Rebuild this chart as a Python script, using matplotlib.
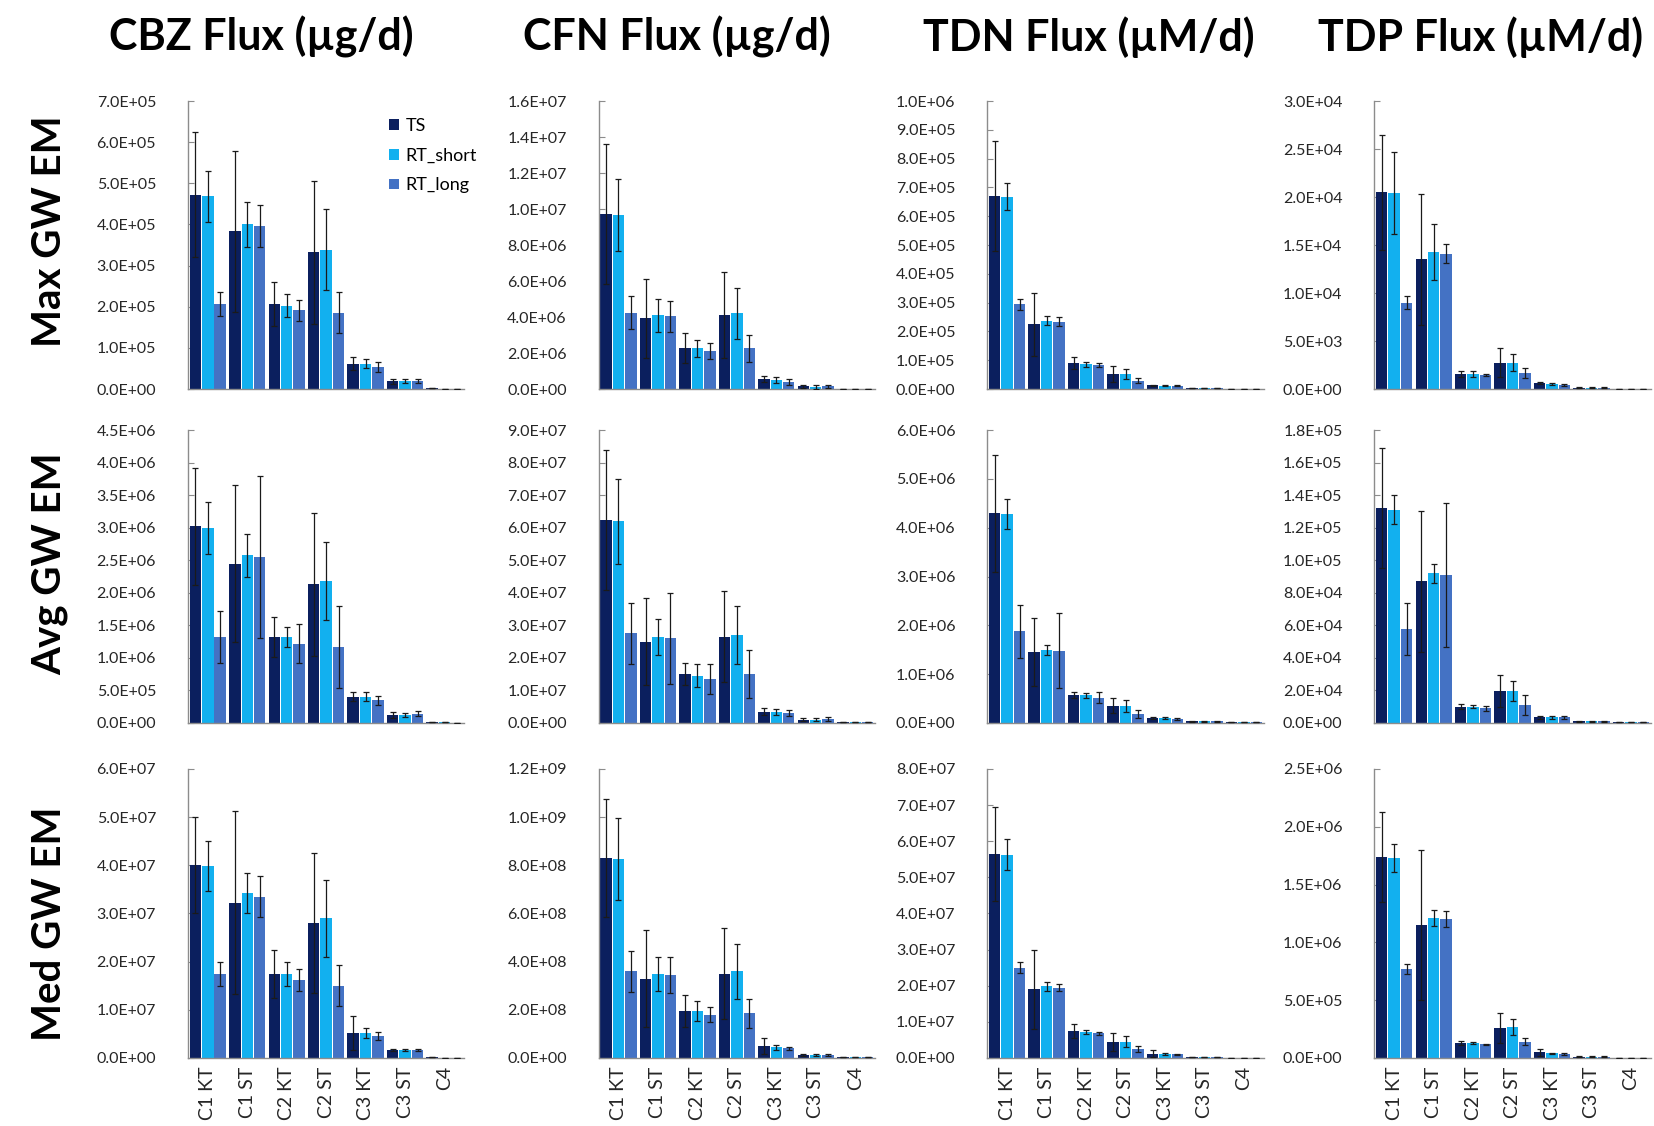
import matplotlib.pyplot as plt
import numpy as np
from matplotlib.ticker import FuncFormatter, MultipleLocator

plt.rcParams['font.family'] = ['Lato', 'DejaVu Sans']

categories = ['C1 KT', 'C1 ST', 'C2 KT', 'C2 ST', 'C3 KT', 'C3 ST', 'C4']
series = ['TS', 'RT_short', 'RT_long']
colors = ['#0b1f5e', '#12b0ef', '#4472c4']
col_titles = ['CBZ Flux (µg/d)', 'CFN Flux (µg/d)', 'TDN Flux (µM/d)', 'TDP Flux (µM/d)']
row_titles = ['Max GW EM', 'Avg GW EM', 'Med GW EM']

# each panel: rows = TS, RT_short, RT_long ; values then errors
cbz_max = np.array([[4.72, 3.83, 2.06, 3.32, 0.62, 0.19, 0.02],
                    [4.68, 4.00, 2.03, 3.39, 0.62, 0.19, 0.01],
                    [2.06, 3.96, 1.91, 1.85, 0.54, 0.20, 0.00]]) * 1e5
cbz_max_err = np.array([[1.52, 1.96, 0.53, 1.74, 0.15, 0.06, 0],
                        [0.63, 0.55, 0.28, 0.98, 0.10, 0.05, 0],
                        [0.29, 0.52, 0.26, 0.50, 0.12, 0.05, 0]]) * 1e5

cfn_max = np.array([[9.72, 3.92, 2.26, 4.09, 0.55, 0.15, 0.02],
                    [9.67, 4.09, 2.26, 4.22, 0.50, 0.12, 0.02],
                    [4.25, 4.03, 2.12, 2.26, 0.40, 0.15, 0.02]]) * 1e6
cfn_max_err = np.array([[3.90, 2.20, 0.83, 2.39, 0.15, 0.10, 0],
                        [2.00, 0.90, 0.48, 1.42, 0.15, 0.10, 0],
                        [0.90, 0.87, 0.44, 0.74, 0.15, 0.10, 0]]) * 1e6

tdn_max = np.array([[6.70, 2.25, 0.89, 0.52, 0.13, 0.03, 0.01],
                    [6.68, 2.37, 0.86, 0.52, 0.12, 0.03, 0.01],
                    [2.94, 2.34, 0.82, 0.29, 0.12, 0.03, 0.01]]) * 1e5
tdn_max_err = np.array([[1.90, 1.10, 0.21, 0.28, 0.02, 0.01, 0],
                        [0.46, 0.15, 0.09, 0.17, 0.02, 0.01, 0],
                        [0.18, 0.16, 0.07, 0.08, 0.02, 0.01, 0]]) * 1e5

tdp_max = np.array([[20.5, 13.5, 1.55, 2.76, 0.62, 0.15, 0.0],
                    [20.4, 14.3, 1.55, 2.76, 0.55, 0.15, 0.0],
                    [9.0, 14.1, 1.50, 1.69, 0.45, 0.15, 0.0]]) * 1e3
tdp_max_err = np.array([[6.0, 6.8, 0.30, 1.50, 0.10, 0.03, 0],
                        [4.3, 2.9, 0.30, 0.85, 0.10, 0.03, 0],
                        [0.7, 1.0, 0.10, 0.50, 0.10, 0.03, 0]]) * 1e3

cbz_avg = np.array([[3.02, 2.45, 1.32, 2.13, 0.40, 0.12, 0.01],
                    [3.00, 2.58, 1.32, 2.18, 0.40, 0.12, 0.01],
                    [1.32, 2.55, 1.22, 1.17, 0.35, 0.14, 0.00]]) * 1e6
cbz_avg_err = np.array([[0.90, 1.20, 0.30, 1.10, 0.07, 0.04, 0],
                        [0.40, 0.33, 0.15, 0.60, 0.07, 0.03, 0],
                        [0.40, 1.25, 0.30, 0.63, 0.07, 0.04, 0]]) * 1e6

cfn_avg = np.array([[6.25, 2.50, 1.50, 2.65, 0.35, 0.10, 0.02],
                    [6.20, 2.65, 1.45, 2.70, 0.33, 0.10, 0.02],
                    [2.75, 2.60, 1.35, 1.50, 0.30, 0.12, 0.02]]) * 1e7
cfn_avg_err = np.array([[2.15, 1.35, 0.35, 1.40, 0.10, 0.05, 0],
                        [1.30, 0.55, 0.35, 0.90, 0.10, 0.05, 0],
                        [0.95, 1.40, 0.45, 0.75, 0.10, 0.05, 0]]) * 1e7

tdn_avg = np.array([[4.30, 1.45, 0.57, 0.35, 0.10, 0.03, 0.01],
                    [4.28, 1.50, 0.57, 0.35, 0.10, 0.03, 0.01],
                    [1.88, 1.48, 0.52, 0.18, 0.08, 0.03, 0.01]]) * 1e6
tdn_avg_err = np.array([[1.20, 0.70, 0.07, 0.15, 0.02, 0.01, 0],
                        [0.30, 0.10, 0.05, 0.12, 0.02, 0.01, 0],
                        [0.54, 0.77, 0.12, 0.08, 0.02, 0.01, 0]]) * 1e6

tdp_avg = np.array([[13.2, 8.7, 1.00, 1.95, 0.35, 0.10, 0.05],
                    [13.1, 9.2, 1.00, 1.95, 0.35, 0.10, 0.05],
                    [5.8, 9.1, 0.90, 1.10, 0.35, 0.10, 0.05]]) * 1e4
tdp_avg_err = np.array([[3.70, 4.35, 0.15, 1.00, 0.10, 0.03, 0],
                        [0.90, 0.60, 0.10, 0.60, 0.10, 0.03, 0],
                        [1.60, 4.45, 0.15, 0.60, 0.10, 0.03, 0]]) * 1e4

cbz_med = np.array([[4.00, 3.22, 1.75, 2.80, 0.52, 0.16, 0.02],
                    [3.98, 3.42, 1.75, 2.90, 0.52, 0.16, 0.00],
                    [1.75, 3.35, 1.62, 1.50, 0.46, 0.16, 0.00]]) * 1e7
cbz_med_err = np.array([[1.00, 1.90, 0.50, 1.45, 0.35, 0.02, 0],
                        [0.52, 0.42, 0.25, 0.80, 0.10, 0.02, 0],
                        [0.25, 0.43, 0.22, 0.42, 0.08, 0.02, 0]]) * 1e7

cfn_med = np.array([[8.30, 3.30, 1.95, 3.50, 0.50, 0.12, 0.03],
                    [8.25, 3.50, 1.95, 3.60, 0.45, 0.12, 0.03],
                    [3.60, 3.45, 1.80, 1.85, 0.40, 0.12, 0.03]]) * 1e8
cfn_med_err = np.array([[2.45, 2.00, 0.65, 1.90, 0.35, 0.05, 0],
                        [1.70, 0.70, 0.40, 1.15, 0.10, 0.05, 0],
                        [0.85, 0.75, 0.30, 0.60, 0.07, 0.05, 0]]) * 1e8

tdn_med = np.array([[5.65, 1.90, 0.75, 0.45, 0.12, 0.03, 0.01],
                    [5.62, 1.98, 0.72, 0.45, 0.12, 0.03, 0.01],
                    [2.50, 1.95, 0.68, 0.25, 0.10, 0.03, 0.01]]) * 1e7
tdn_med_err = np.array([[1.30, 1.10, 0.20, 0.25, 0.10, 0.01, 0],
                        [0.43, 0.12, 0.05, 0.15, 0.03, 0.01, 0],
                        [0.15, 0.10, 0.05, 0.08, 0.02, 0.01, 0]]) * 1e7

tdp_med = np.array([[17.4, 11.5, 1.30, 2.60, 0.50, 0.10, 0.0],
                    [17.3, 12.1, 1.30, 2.70, 0.40, 0.10, 0.0],
                    [7.7, 12.0, 1.20, 1.40, 0.35, 0.10, 0.0]]) * 1e5
tdp_med_err = np.array([[3.90, 6.50, 0.20, 1.30, 0.30, 0.03, 0],
                        [1.20, 0.70, 0.05, 0.70, 0.05, 0.03, 0],
                        [0.40, 0.70, 0.05, 0.30, 0.05, 0.03, 0]]) * 1e5

panels = [[(cbz_max, cbz_max_err, 7e5, 1e5), (cfn_max, cfn_max_err, 1.6e7, 2e6),
           (tdn_max, tdn_max_err, 1e6, 1e5), (tdp_max, tdp_max_err, 3e4, 5e3)],
          [(cbz_avg, cbz_avg_err, 4.5e6, 5e5), (cfn_avg, cfn_avg_err, 9e7, 1e7),
           (tdn_avg, tdn_avg_err, 6e6, 1e6), (tdp_avg, tdp_avg_err, 1.8e5, 2e4)],
          [(cbz_med, cbz_med_err, 6e7, 1e7), (cfn_med, cfn_med_err, 1.2e9, 2e8),
           (tdn_med, tdn_med_err, 8e7, 1e7), (tdp_med, tdp_med_err, 2.5e6, 5e5)]]

fig = plt.figure(figsize=(16.54, 11.26), dpi=100)

lefts = [0.1137, 0.362, 0.597, 0.831]
bottoms = [0.6545, 0.358, 0.0604]
heights = [0.2558, 0.260, 0.2567]
width = 0.167
x = np.arange(len(categories))
bw = 0.29
step = 0.315
axis_gray = '#8c8c8c'

for r in range(3):
    for c in range(4):
        vals, errs, ymax, ystep = panels[r][c]
        ax = fig.add_axes([lefts[c], bottoms[r], width, heights[r]])
        for i in range(3):
            pos = x + (i - 1) * step
            ax.bar(pos, vals[i], bw, color=colors[i], label=series[i], zorder=2)
            ax.errorbar(pos, vals[i], yerr=errs[i], fmt='none', ecolor='#1a1a1a',
                        elinewidth=0.9, capsize=2.2, capthick=0.9, zorder=3)
        ax.set_xlim(-0.5, 6.5)
        ax.set_ylim(0, ymax)
        ax.yaxis.set_major_locator(MultipleLocator(ystep))
        ax.yaxis.set_major_formatter(FuncFormatter(lambda v, p: f'{v:.1E}'))
        for s in ['top', 'right']:
            ax.spines[s].set_visible(False)
        for s in ['left', 'bottom']:
            ax.spines[s].set_color(axis_gray)
            ax.spines[s].set_linewidth(1.0)
        ax.tick_params(axis='y', direction='in', length=4, color=axis_gray,
                       labelsize=11.5, labelcolor='#262626', pad=23)
        ax.set_xticks(x)
        if r == 2:
            ax.set_xticklabels(categories, rotation=90, fontsize=14, color='#262626')
            ax.tick_params(axis='x', length=0, pad=6)
        else:
            ax.set_xticklabels([])
            ax.tick_params(axis='x', length=0)
        if r == 0 and c == 0:
            ax.legend(loc='upper left', bbox_to_anchor=(0.70, 0.965), frameon=False,
                      fontsize=13, handlelength=0.55, handleheight=0.55,
                      handletextpad=0.4, labelspacing=0.75, borderaxespad=0)

title_x = [0.158, 0.409, 0.658, 0.895]
for c in range(4):
    fig.text(title_x[c], 0.967, col_titles[c], fontsize=31, fontweight='bold',
             ha='center', va='center')

row_y = [0.795, 0.499, 0.180]
for r in range(3):
    fig.text(0.030, row_y[r], row_titles[r], fontsize=29, fontweight='bold',
             rotation=90, ha='center', va='center')

fig.savefig('out.png', dpi=100)
